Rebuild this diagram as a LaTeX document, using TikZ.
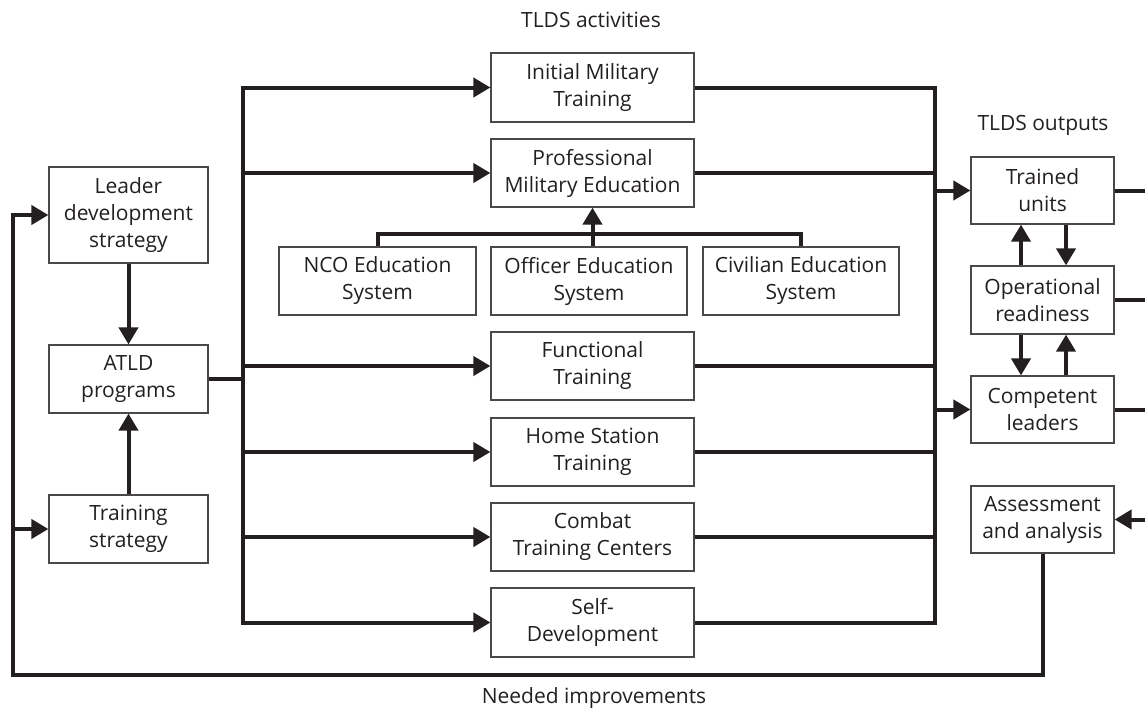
\documentclass[tikz,border=0pt]{standalone}
\usepackage{fontspec}
\setmainfont{Open Sans}
\usetikzlibrary{arrows.meta}
\definecolor{ink}{RGB}{35,31,32}
\definecolor{frame}{RGB}{75,72,73}
\begin{document}
\begin{tikzpicture}[x=1pt,y=-1pt,
  box/.style={draw=frame, line width=1.2pt, align=center, inner sep=0pt,
    text=ink, font=\fontsize{21}{27}\selectfont},
  headtext/.style={text=ink, inner sep=0pt, font=\fontsize{21}{27}\selectfont},
  wire/.style={draw=ink, line width=4pt, line cap=rect, line join=miter},
  link/.style={wire, line cap=butt},
  feed/.style={wire, line cap=butt, -{Triangle[length=17pt,width=19pt]}},
]
\useasboundingbox (0,0) rectangle (1145,713);

% headings
\node[headtext] (tact) at (591,20) {TLDS activities};
\node[headtext] (tout) at (1043,125) {TLDS outputs};
\node[headtext] (need) at (594,698) {Needed improvements};

% strategy column
\node[box, minimum width=159pt, minimum height=96pt] (lds) at (128.5,215) {Leader\\development\\strategy};
\node[box, minimum width=159pt, minimum height=68pt] (atld) at (128.5,379) {ATLD\\programs};
\node[box, minimum width=159pt, minimum height=68pt] (ts) at (128.5,529) {Training\\strategy};

% activities
\node[box, minimum width=203pt, minimum height=69pt] (imt) at (592.5,87.5) {Initial Military\\Training};
\node[box, minimum width=203pt, minimum height=68pt] (pme) at (592.5,173) {Professional\\Military Education};
\node[box, minimum width=197pt, minimum height=68pt] (nco) at (377.5,281) {NCO Education\\System};
\node[box, minimum width=196pt, minimum height=68pt] (oes) at (589,281) {Officer Education\\System};
\node[box, minimum width=196pt, minimum height=68pt] (ces) at (801,281) {Civilian Education\\System};
\node[box, minimum width=203pt, minimum height=68pt] (ft) at (592.5,366) {Functional\\Training};
\node[box, minimum width=203pt, minimum height=68pt] (hst) at (592.5,452) {Home Station\\Training};
\node[box, minimum width=203pt, minimum height=68pt] (ctc) at (592.5,537) {Combat\\Training Centers};
\node[box, minimum width=203pt, minimum height=69pt] (sd) at (592.5,622.5) {Self-\\Development};

% outputs
\node[box, minimum width=143pt, minimum height=67pt] (tu) at (1042.5,190.5) {Trained\\units};
\node[box, minimum width=143pt, minimum height=68pt] (ore) at (1042.5,300) {Operational\\readiness};
\node[box, minimum width=143pt, minimum height=67pt] (cl) at (1042.5,409.5) {Competent\\leaders};
\node[box, minimum width=143pt, minimum height=67pt] (aa) at (1042.5,519.5) {Assessment\\and analysis};

% bus positions
\coordinate (lb) at (243,379);
\coordinate (rb) at (935,379);
\coordinate (sb) at (594,234);
\coordinate (loop) at (13,675);
\coordinate (edge) at (1145,0);

% strategy links
\draw[feed] (lds.south) -- (atld.north);
\draw[feed] (ts.north) -- (atld.south);

% distribution bus to the activities
\draw[link] (atld.east) -- (lb |- atld.east);
\draw[wire] (lb |- imt.west) -- (lb |- sd.west);
\foreach \n in {imt,pme,ft,hst,ctc,sd}
  \draw[feed] (lb |- \n.west) -- (\n.west);

% education systems feeding PME
\draw[link] (nco.north) |- (sb) -| (ces.north);
\draw[feed] (oes.north -| pme.south) -- (pme.south);

% collecting bus to the outputs
\draw[wire] (rb |- imt.east) -- (rb |- sd.east);
\foreach \n in {imt,pme,ft,hst,ctc,sd}
  \draw[link] (\n.east) -- (rb |- \n.east);
\draw[feed] (rb |- tu.west) -- (tu.west);
\draw[feed] (rb |- cl.west) -- (cl.west);

% exchanges between the outputs
\draw[feed] ([xshift=-21.5pt]ore.north) -- ([xshift=-21.5pt]tu.south);
\draw[feed] ([xshift=23.5pt]tu.south) -- ([xshift=23.5pt]ore.north);
\draw[feed] ([xshift=-21.5pt]ore.south) -- ([xshift=-21.5pt]cl.north);
\draw[feed] ([xshift=23.5pt]cl.north) -- ([xshift=23.5pt]ore.south);

% outputs leaving to the right
\draw[link] (tu.east) -- (tu.east -| edge);
\draw[link] (ore.east) -- (ore.east -| edge);
\draw[link] (cl.east) -- (cl.east -| edge);
\draw[feed] (aa.east -| edge) -- (aa.east);

% feedback loop of needed improvements
\draw[feed] (aa.south) |- (loop) |- (lds.west);
\draw[feed] (loop |- ts.west) -- (ts.west);
\end{tikzpicture}
\end{document}
